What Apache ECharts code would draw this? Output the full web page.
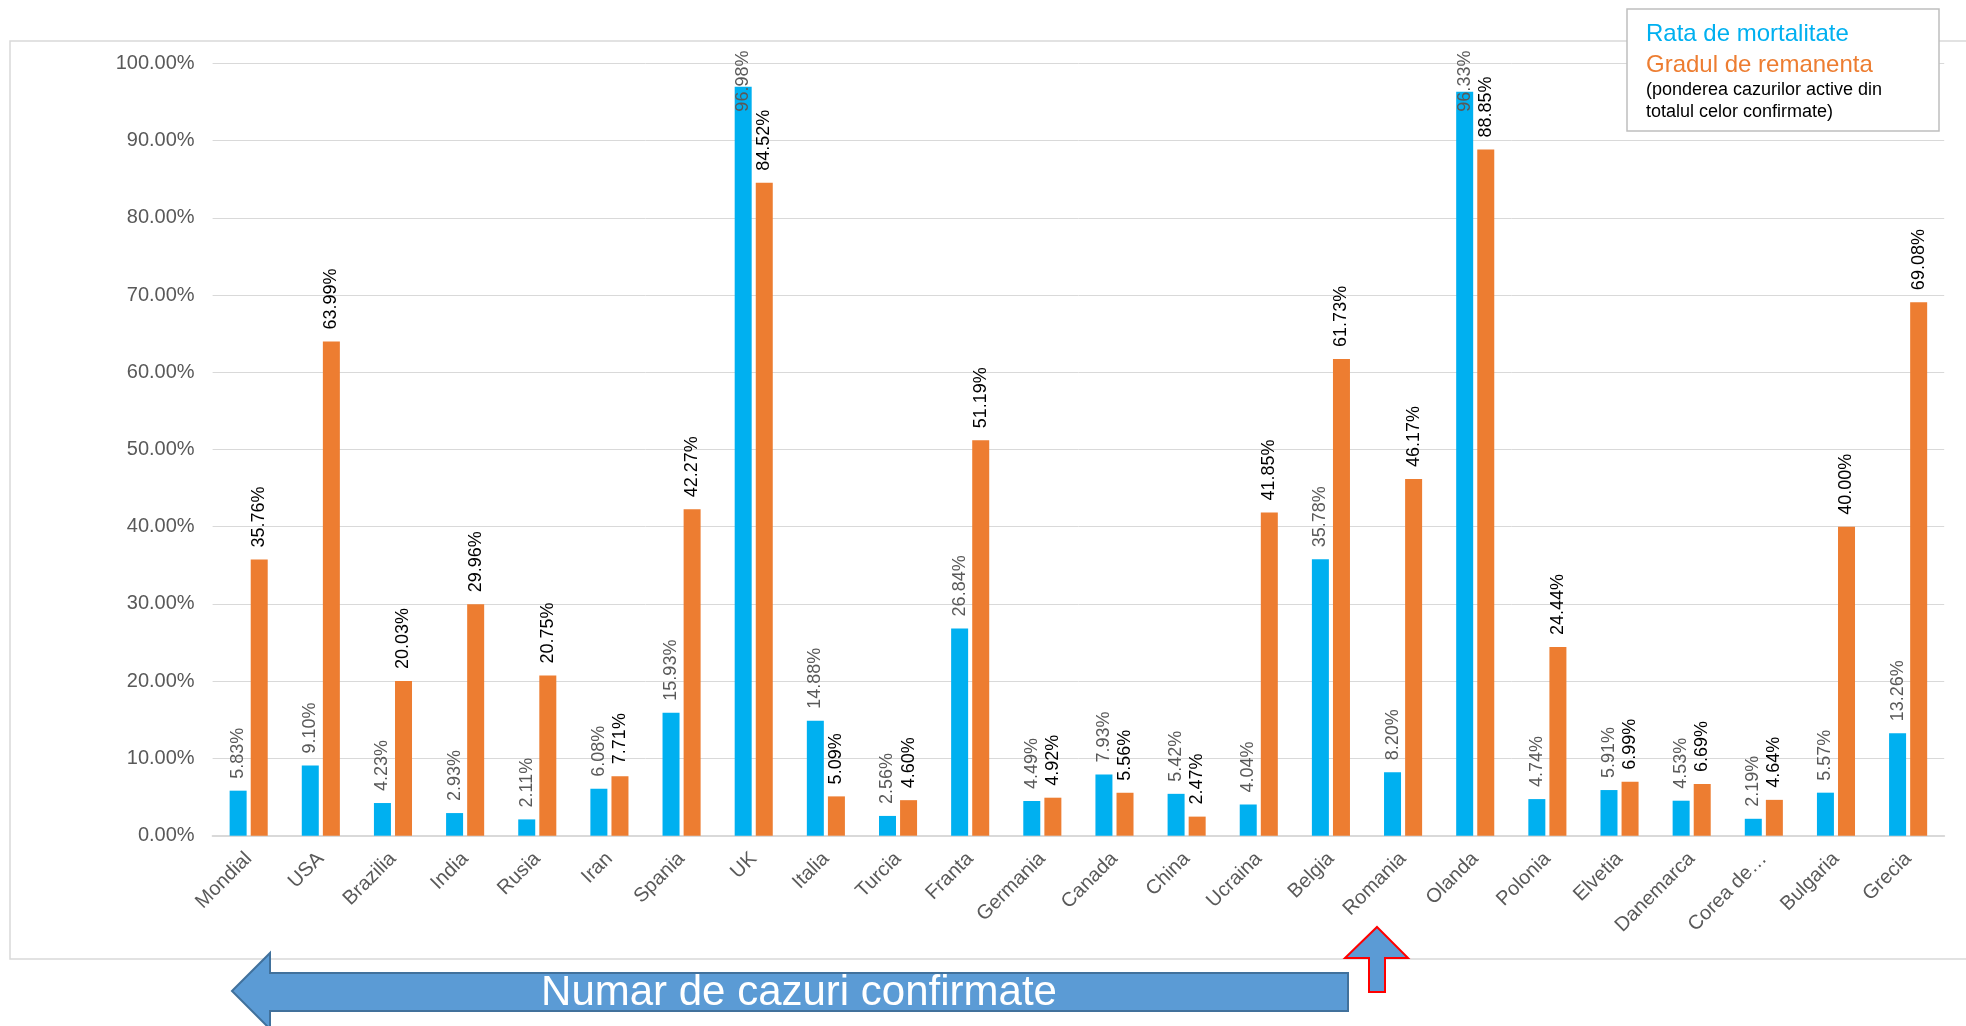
<!DOCTYPE html>
<html>
<head>
<meta charset="utf-8">
<script src="https://cdn.jsdelivr.net/npm/echarts@6/dist/echarts.min.js"></script>
<style>
html, body { margin: 0; padding: 0; background: #fff; }
#chart { width: 1966px; height: 1026px; }
</style>
</head>
<body>
<div id="chart"></div>
<script>
var tari = ['Mondial', 'USA', 'Brazilia', 'India', 'Rusia', 'Iran', 'Spania', 'UK', 'Italia', 'Turcia',
    'Franta', 'Germania', 'Canada', 'China', 'Ucraina', 'Belgia', 'Romania', 'Olanda', 'Polonia',
    'Elvetia', 'Danemarca', 'Corea de…', 'Bulgaria', 'Grecia'];
var mortalitate = [5.83, 9.10, 4.23, 2.93, 2.11, 6.08, 15.93, 96.98, 14.88, 2.56,
    26.84, 4.49, 7.93, 5.42, 4.04, 35.78, 8.20, 96.33, 4.74,
    5.91, 4.53, 2.19, 5.57, 13.26];
var remanenta = [35.76, 63.99, 20.03, 29.96, 20.75, 7.71, 42.27, 84.52, 5.09, 4.60,
    51.19, 4.92, 5.56, 2.47, 41.85, 61.73, 46.17, 88.85, 24.44,
    6.99, 6.69, 4.64, 40.00, 69.08];

var font = 'Liberation Sans, Arial, sans-serif';
var chart = echarts.init(document.getElementById('chart'));

// etichetele care ies din zona graficului sunt coborate peste bara (ca in Excel)
var pushDown = { 7: -25, 17: -20 };
var blueData = mortalitate.map(function (v, i) {
    if (pushDown[i] !== undefined) {
        return { value: v, label: { distance: pushDown[i] } };
    }
    return v;
});

function pct(v) { return v.toFixed(2) + '%'; }

var option = {
    backgroundColor: '#fff',
    animation: false,
    grid: { left: 212.6, right: 21.8, top: 63.3, bottom: 190.3 },
    xAxis: {
        type: 'category',
        data: tari,
        axisLine: { lineStyle: { color: '#D9D9D9', width: 2 } },
        axisTick: { show: false },
        axisLabel: {
            rotate: 45,
            margin: 20,
            interval: 0,
            color: '#595959',
            fontSize: 20,
            fontFamily: font
        }
    },
    yAxis: {
        type: 'value',
        min: 0,
        max: 100,
        interval: 10,
        axisLine: { show: false },
        axisTick: { show: false },
        splitLine: { lineStyle: { color: '#D9D9D9', width: 1 } },
        axisLabel: {
            margin: 18,
            color: '#595959',
            fontSize: 20,
            fontFamily: font,
            formatter: pct
        }
    },
    series: [
        {
            name: 'Rata de mortalitate',
            type: 'bar',
            barWidth: 17,
            barGap: '24%',
            itemStyle: { color: '#00B0F0' },
            label: {
                show: true,
                position: 'top',
                rotate: 90,
                align: 'left',
                verticalAlign: 'middle',
                distance: 12,
                color: '#595959',
                fontSize: 18,
                fontFamily: font,
                formatter: function (p) { return pct(p.value); }
            },
            data: blueData
        },
        {
            name: 'Gradul de remanenta',
            type: 'bar',
            barWidth: 17,
            itemStyle: { color: '#ED7D31' },
            label: {
                show: true,
                position: 'top',
                rotate: 90,
                align: 'left',
                verticalAlign: 'middle',
                distance: 12,
                color: '#000',
                fontSize: 18,
                fontFamily: font,
                formatter: function (p) { return pct(p.value); }
            },
            data: remanenta
        }
    ],
    graphic: [
        // chenarul graficului
        {
            type: 'rect', z: -10, silent: true,
            shape: { x: 10, y: 41, width: 2100, height: 918 },
            style: { fill: 'none', stroke: '#D9D9D9', lineWidth: 1.5 }
        },
        // legenda
        {
            type: 'rect', z: 10,
            shape: { x: 1627, y: 9, width: 312, height: 122 },
            style: { fill: '#fff', stroke: '#BFBFBF', lineWidth: 1.5 }
        },
        {
            type: 'text', z: 11, x: 1646, y: 34.4,
            style: { text: 'Rata de mortalitate', fill: '#00B0F0', font: '24px ' + font, verticalAlign: 'middle' }
        },
        {
            type: 'text', z: 11, x: 1646, y: 65.7,
            style: { text: 'Gradul de remanenta', fill: '#ED7D31', font: '24px ' + font, verticalAlign: 'middle' }
        },
        {
            type: 'text', z: 11, x: 1646, y: 90.5,
            style: { text: '(ponderea cazurilor active din', fill: '#000', font: '18px ' + font, verticalAlign: 'middle' }
        },
        {
            type: 'text', z: 11, x: 1646, y: 111.8,
            style: { text: 'totalul celor confirmate)', fill: '#000', font: '18px ' + font, verticalAlign: 'middle' }
        },
        // sageata "Numar de cazuri confirmate"
        {
            type: 'polygon', z: 10,
            shape: { points: [[232, 991], [270, 953], [270, 973], [1348, 973], [1348, 1011], [270, 1011], [270, 1029]] },
            style: { fill: '#5B9BD5', stroke: '#41719C', lineWidth: 2 }
        },
        {
            type: 'text', z: 11, x: 799, y: 993,
            style: { text: 'Numar de cazuri confirmate', fill: '#fff', font: '42px ' + font, align: 'center', verticalAlign: 'middle' }
        },
        // sageata Romania
        {
            type: 'polygon', z: 10,
            shape: { points: [[1377, 927], [1408, 958], [1385, 958], [1385, 992], [1369, 992], [1369, 958], [1345, 958]] },
            style: { fill: '#5B9BD5', stroke: '#FF0000', lineWidth: 2 }
        }
    ]
};

chart.setOption(option);
</script>
</body>
</html>
